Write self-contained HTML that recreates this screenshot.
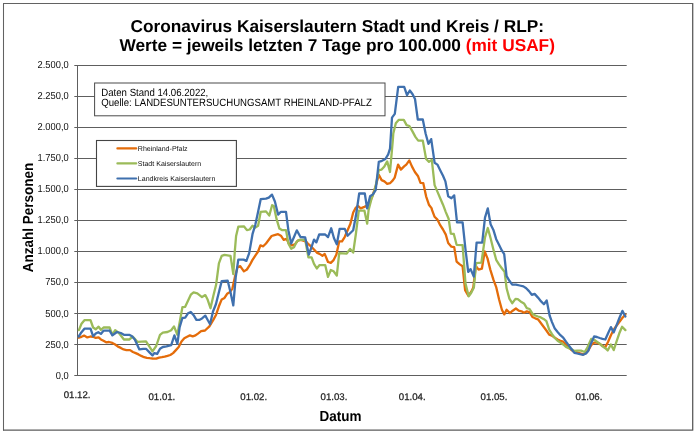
<!DOCTYPE html>
<html><head><meta charset="utf-8"><title>Coronavirus Kaiserslautern</title>
<style>
html,body{margin:0;padding:0;background:#fff;}
svg{display:block;will-change:transform;}
text{font-family:"Liberation Sans",sans-serif;text-rendering:geometricPrecision;}
</style></head><body>
<svg width="696" height="432" viewBox="0 0 696 432">
<rect x="0" y="0" width="696" height="432" fill="#fff"/>
<path d="M3.5 430.6 V3.5 H693.2" fill="none" stroke="#626262" stroke-width="1.05"/>
<path d="M692.7 3.5 V430.15 H3.0" fill="none" stroke="#5c5c5c" stroke-width="1.3" stroke-linejoin="round"/>
<!-- title -->
<text x="337.2" y="31.5" text-anchor="middle" font-size="17.27" font-weight="bold" fill="#000">Coronavirus Kaiserslautern Stadt und Kreis / RLP:</text>
<text x="337.2" y="50.8" text-anchor="middle" font-size="17.27" font-weight="bold" fill="#000">Werte = jeweils letzten 7 Tage pro 100.000 <tspan fill="#ff0000">(mit USAF)</tspan></text>
<!-- grid -->
<line x1="74.3" y1="375.50" x2="626.7" y2="375.50" stroke="#5e5e5e" stroke-width="1"/>
<line x1="74.3" y1="344.50" x2="626.7" y2="344.50" stroke="#5e5e5e" stroke-width="1"/>
<line x1="74.3" y1="313.50" x2="626.7" y2="313.50" stroke="#5e5e5e" stroke-width="1"/>
<line x1="74.3" y1="282.50" x2="626.7" y2="282.50" stroke="#5e5e5e" stroke-width="1"/>
<line x1="74.3" y1="251.50" x2="626.7" y2="251.50" stroke="#5e5e5e" stroke-width="1"/>
<line x1="74.3" y1="220.50" x2="626.7" y2="220.50" stroke="#5e5e5e" stroke-width="1"/>
<line x1="74.3" y1="189.50" x2="626.7" y2="189.50" stroke="#5e5e5e" stroke-width="1"/>
<line x1="74.3" y1="158.50" x2="626.7" y2="158.50" stroke="#5e5e5e" stroke-width="1"/>
<line x1="74.3" y1="127.50" x2="626.7" y2="127.50" stroke="#5e5e5e" stroke-width="1"/>
<line x1="74.3" y1="96.50" x2="626.7" y2="96.50" stroke="#5e5e5e" stroke-width="1"/>
<line x1="74.3" y1="65.50" x2="626.7" y2="65.50" stroke="#5e5e5e" stroke-width="1"/>

<line x1="77.5" y1="65.0" x2="77.5" y2="376.0" stroke="#5e5e5e" stroke-width="1"/>
<text transform="translate(68.7,378.70) scale(0.915,1)" text-anchor="end" font-size="10.2" fill="#111">0,0</text>
<text transform="translate(68.7,347.60) scale(0.915,1)" text-anchor="end" font-size="10.2" fill="#111">250,0</text>
<text transform="translate(68.7,316.50) scale(0.915,1)" text-anchor="end" font-size="10.2" fill="#111">500,0</text>
<text transform="translate(68.7,285.40) scale(0.915,1)" text-anchor="end" font-size="10.2" fill="#111">750,0</text>
<text transform="translate(68.7,254.30) scale(0.915,1)" text-anchor="end" font-size="10.2" fill="#111">1.000,0</text>
<text transform="translate(68.7,223.20) scale(0.915,1)" text-anchor="end" font-size="10.2" fill="#111">1.250,0</text>
<text transform="translate(68.7,192.10) scale(0.915,1)" text-anchor="end" font-size="10.2" fill="#111">1.500,0</text>
<text transform="translate(68.7,161.00) scale(0.915,1)" text-anchor="end" font-size="10.2" fill="#111">1.750,0</text>
<text transform="translate(68.7,129.90) scale(0.915,1)" text-anchor="end" font-size="10.2" fill="#111">2.000,0</text>
<text transform="translate(68.7,98.80) scale(0.915,1)" text-anchor="end" font-size="10.2" fill="#111">2.250,0</text>
<text transform="translate(68.7,67.70) scale(0.915,1)" text-anchor="end" font-size="10.2" fill="#111">2.500,0</text>

<text x="77.1" y="398.2" text-anchor="middle" font-size="9.65" fill="#222" stroke="#222" stroke-width="0.25">01.12.</text>
<text x="161.9" y="400.4" text-anchor="middle" font-size="9.65" fill="#222" stroke="#222" stroke-width="0.25">01.01.</text>
<text x="253.75" y="399.7" text-anchor="middle" font-size="9.65" fill="#222" stroke="#222" stroke-width="0.25">01.02.</text>
<text x="334.0" y="399.7" text-anchor="middle" font-size="9.65" fill="#222" stroke="#222" stroke-width="0.25">01.03.</text>
<text x="412.2" y="400.4" text-anchor="middle" font-size="9.65" fill="#222" stroke="#222" stroke-width="0.25">01.04.</text>
<text x="494.0" y="400.4" text-anchor="middle" font-size="9.65" fill="#222" stroke="#222" stroke-width="0.25">01.05.</text>
<text x="589.0" y="399.7" text-anchor="middle" font-size="9.65" fill="#222" stroke="#222" stroke-width="0.25">01.06.</text>

<!-- axis titles -->
<text transform="translate(340.6,420.6) scale(0.924,1)" text-anchor="middle" font-size="14.6" font-weight="bold" fill="#000">Datum</text>
<text transform="translate(32.8,217.5) rotate(-90) scale(0.924,1)" text-anchor="middle" font-size="14.6" font-weight="bold" fill="#000">Anzahl Personen</text>
<!-- info box -->
<rect x="94.6" y="83.0" width="290.4" height="32.8" fill="#fff" stroke="#4a4a4a" stroke-width="1"/>
<text transform="translate(101.3,95.6) scale(0.912,1)" font-size="10.55" fill="#000">Daten Stand 14.06.2022,</text>
<text transform="translate(101.3,106.4) scale(0.911,1)" font-size="10.55" fill="#000">Quelle: LANDESUNTERSUCHUNGSAMT RHEINLAND-PFALZ</text>
<!-- legend -->
<rect x="96.5" y="140.5" width="139.9" height="45.9" fill="#fff" stroke="#444" stroke-width="1.1"/>
<line x1="117.4" y1="148.4" x2="136.2" y2="148.4" stroke="#e46c0a" stroke-width="2.2" stroke-linecap="round"/>
<line x1="117.4" y1="163.4" x2="136.2" y2="163.4" stroke="#9bbb59" stroke-width="2.2" stroke-linecap="round"/>
<line x1="117.4" y1="178.5" x2="136.2" y2="178.5" stroke="#3f70ae" stroke-width="2.2" stroke-linecap="round"/>
<text x="137.8" y="150.8" font-size="7.05" fill="#111">Rheinland-Pfalz</text>
<text x="137.8" y="166.0" font-size="7.05" fill="#111">Stadt Kaiserslautern</text>
<text x="137.8" y="180.8" font-size="7.05" fill="#111">Landkreis Kaiserslautern</text>
<!-- series -->
<g fill="none" stroke-width="2.3" stroke-linejoin="round" stroke-linecap="round">
<polyline stroke="#e46c0a" points="78.8,337.7 81.5,336.8 84.1,335.6 87.3,337.4 90.5,336.5 93.1,336.8 95.7,337.9 98.6,337.4 100.9,339.4 103.5,340.8 106.1,342.3 109.0,342.0 112.4,342.9 115.2,344.5 118.0,346.6 120.8,347.9 123.6,349.4 126.4,350.1 130.1,350.1 132.9,352.0 135.7,353.1 138.5,354.4 141.3,355.9 144.1,357.2 146.9,357.8 149.7,358.2 152.5,358.5 156.2,358.7 159.1,357.6 161.9,357.2 164.7,356.7 167.5,355.9 170.3,355.0 173.1,353.1 175.9,350.1 178.7,347.0 181.5,341.4 184.3,338.2 187.1,336.7 189.9,335.4 192.7,336.3 195.5,335.4 198.3,333.3 201.1,331.1 205.0,330.5 209.4,326.3 213.3,319.9 216.1,314.7 218.9,306.3 221.7,299.4 224.5,297.9 227.1,293.8 229.7,292.3 232.4,288.6 234.8,277.4 237.6,267.1 240.2,266.1 243.9,271.4 246.9,269.5 249.7,265.2 252.5,259.9 255.3,255.6 258.1,251.5 260.4,245.4 263.2,246.3 266.0,243.5 268.8,239.8 271.6,236.0 274.4,235.1 278.1,234.2 280.9,235.7 283.7,239.8 286.5,238.8 289.3,244.4 292.1,245.4 294.9,244.4 297.7,240.7 300.5,239.8 303.3,240.7 306.1,241.6 308.4,244.2 311.2,246.5 314.0,249.5 316.8,252.6 319.6,253.9 322.4,255.8 324.7,253.9 328.0,262.0 330.8,262.9 333.6,260.1 336.4,254.5 339.2,241.4 342.0,241.4 344.8,236.8 347.6,230.2 350.4,223.7 353.2,212.5 355.7,207.8 357.9,205.9 360.7,208.4 364.4,206.9 368.9,204.7 372.3,196.3 375.7,186.0 378.8,174.8 381.6,180.1 384.4,181.4 387.2,183.8 390.0,183.2 392.8,180.4 394.7,177.6 398.1,164.6 400.9,169.6 404.1,166.4 406.3,164.6 409.3,160.4 411.9,166.4 414.9,172.0 418.1,176.3 420.5,182.9 423.3,183.2 426.1,196.3 428.9,204.7 431.7,208.4 431.8,209.3 434.6,216.8 437.4,219.6 440.2,225.2 443.0,229.5 445.8,234.6 448.2,243.0 451.4,246.7 454.2,247.1 456.6,261.6 459.8,264.4 462.6,266.3 465.1,290.2 468.3,295.8 471.1,292.0 473.3,287.4 475.8,265.9 478.6,269.6 481.9,268.7 484.7,251.5 487.5,258.4 490.3,269.6 493.5,279.9 496.3,287.4 499.1,299.5 501.9,309.8 504.3,314.4 506.6,309.8 509.9,313.1 512.7,310.7 515.9,308.5 518.7,310.7 521.5,311.3 524.0,312.7 526.8,311.4 529.6,312.2 532.4,317.0 535.2,318.3 538.0,319.3 540.8,323.0 543.6,326.8 546.4,330.5 549.2,334.6 552.0,335.7 554.8,337.6 557.6,339.5 560.4,340.8 563.2,341.7 566.0,344.5 568.8,347.7 571.6,350.1 574.4,352.0 577.2,352.5 580.0,353.3 583.2,354.4 586.0,352.9 588.4,350.1 591.2,345.1 594.1,342.6 596.9,342.6 599.7,343.9 602.5,345.8 605.3,347.3 608.1,341.7 610.9,335.2 613.7,329.6 616.5,325.8 619.3,322.1 622.1,318.3 625.4,314.6"/>
<polyline stroke="#9bbb59" points="78.9,330.1 81.5,323.8 84.4,320.2 90.5,320.2 93.1,327.5 95.7,329.3 98.6,326.7 100.9,329.8 103.5,327.5 109.6,327.5 112.4,334.8 115.2,330.2 118.9,333.0 123.9,339.5 129.2,339.5 132.9,336.7 137.6,341.9 146.0,341.4 152.5,351.3 156.2,346.0 160.0,334.8 162.8,332.6 167.5,332.0 171.2,330.2 174.0,326.4 177.4,334.8 182.4,307.2 185.2,306.8 190.8,294.7 193.6,292.4 197.3,293.4 202.0,297.1 205.3,295.1 207.7,299.8 210.5,308.2 213.3,296.0 216.1,284.8 218.9,263.3 221.7,255.9 224.5,254.9 230.5,255.9 233.3,274.2 234.8,251.2 236.1,236.0 238.3,226.7 243.9,226.3 246.9,230.1 249.7,229.5 252.5,225.8 255.3,227.6 258.1,225.8 260.7,211.8 266.0,211.4 269.3,215.5 272.1,205.2 273.8,206.1 276.6,219.2 279.4,228.6 281.9,230.1 286.0,230.1 288.4,243.5 291.2,248.7 294.0,247.2 296.8,241.6 299.6,239.8 305.2,239.8 308.4,257.3 311.6,257.3 314.0,263.8 316.8,268.5 319.6,265.1 325.2,265.1 328.0,276.9 330.8,270.0 333.6,271.3 336.8,275.6 339.2,253.2 346.7,253.6 350.1,248.9 353.2,252.6 356.0,233.0 358.8,210.6 364.4,210.6 367.2,223.7 368.6,209.9 371.4,199.1 374.2,191.6 376.0,184.2 378.8,170.2 381.6,169.6 384.4,166.4 387.2,161.4 390.0,172.0 392.8,140.3 393.3,133.5 395.8,123.2 398.6,119.9 403.8,119.9 406.6,125.1 409.4,126.0 412.6,131.6 415.4,136.9 418.2,140.6 422.8,140.6 426.1,159.0 429.0,161.8 431.8,159.9 434.6,185.1 437.4,191.6 440.2,198.2 443.0,204.7 445.8,212.1 448.6,218.7 450.8,233.6 453.8,234.0 456.6,244.8 462.6,245.2 465.5,283.6 468.7,296.3 471.1,293.0 473.9,287.4 476.1,263.1 481.4,262.7 485.0,237.4 487.8,228.0 490.6,238.3 493.4,249.5 496.2,259.8 499.0,264.4 501.8,268.2 504.6,271.9 506.6,288.3 509.4,298.6 512.2,303.2 515.5,298.9 517.8,299.1 520.6,301.4 524.0,303.4 526.8,308.1 529.6,309.0 532.4,313.7 535.2,315.5 538.0,316.5 540.8,317.4 543.6,318.9 546.4,321.1 549.2,329.6 552.0,334.2 554.8,338.0 557.6,340.8 560.4,342.6 563.2,344.5 566.0,346.9 568.8,348.2 571.6,349.2 574.4,351.0 577.2,350.7 581.0,350.7 584.7,352.0 587.5,347.3 591.2,338.9 594.1,339.8 596.9,341.7 599.7,343.6 602.5,346.4 605.3,348.2 607.7,350.5 610.9,344.5 613.7,350.1 616.5,341.7 619.3,333.3 622.1,326.8 625.4,330.1"/>
<polyline stroke="#3f70ae" points="78.7,336.5 81.5,332.2 84.4,328.7 90.5,328.7 93.1,336.2 95.7,333.6 98.3,332.2 100.9,333.9 103.5,330.7 109.6,330.7 112.4,335.4 117.0,332.0 120.8,333.0 123.9,334.8 129.2,334.8 132.0,336.3 134.8,339.5 139.4,349.4 143.2,348.8 146.0,348.8 149.7,352.6 152.5,355.4 154.4,353.1 157.2,353.9 160.0,348.8 162.8,347.0 166.5,346.4 171.2,345.1 174.4,335.4 177.4,343.8 179.6,327.4 182.4,318.0 185.2,317.6 188.0,313.3 190.8,312.0 193.6,315.2 196.4,319.9 199.2,319.9 202.0,318.4 205.3,315.6 208.0,320.5 210.1,324.1 213.0,311.5 215.9,304.3 218.9,292.3 221.7,281.1 227.7,280.7 230.5,292.3 233.3,305.4 235.7,277.4 238.3,259.6 243.6,259.6 246.4,260.9 249.2,253.1 252.5,234.2 255.3,224.8 258.1,211.8 260.7,199.2 266.0,198.7 268.8,197.7 272.0,194.6 274.9,201.5 278.1,214.6 280.9,211.8 286.0,211.8 288.4,230.4 291.2,243.5 294.0,237.0 296.8,230.4 300.5,237.0 305.2,237.5 308.8,254.5 311.2,248.0 314.0,239.6 316.4,242.4 319.2,234.5 325.2,234.5 328.0,237.1 331.2,228.3 334.0,238.2 336.8,244.2 339.6,228.9 344.8,228.9 347.6,235.8 353.2,230.2 356.0,215.3 359.2,193.5 364.8,193.5 367.1,208.4 370.1,196.3 372.9,194.4 375.7,190.1 378.8,161.8 382.0,160.8 385.4,159.0 388.2,154.3 390.0,148.7 392.0,117.6 394.8,113.9 398.2,86.8 404.2,86.8 407.0,95.2 409.8,90.5 412.6,94.3 415.0,99.0 417.8,119.5 422.8,119.5 425.6,133.5 428.4,143.8 431.2,139.1 434.6,162.7 437.4,164.6 440.2,170.2 443.0,175.8 445.4,181.4 448.2,196.3 451.4,198.2 454.2,195.4 457.0,222.4 462.6,222.4 465.4,248.6 468.2,271.9 470.6,269.1 473.8,276.6 476.6,242.6 482.2,242.6 485.0,217.7 487.8,208.4 490.6,224.3 493.4,229.9 496.2,239.2 499.0,244.8 501.8,250.4 504.2,254.2 506.6,276.1 509.4,280.8 512.2,284.6 515.9,284.6 519.7,285.5 523.4,286.4 526.2,288.3 529.0,291.1 531.8,294.8 534.6,293.9 538.0,297.6 541.1,301.4 543.9,304.2 546.7,300.4 549.6,315.5 552.0,322.1 554.8,328.6 557.6,332.0 560.4,335.2 563.2,337.6 566.0,341.7 568.8,345.4 571.6,349.2 574.4,352.9 577.2,353.5 580.0,354.2 583.2,354.8 586.0,353.5 588.4,350.7 591.2,343.2 594.1,336.5 596.9,337.0 599.7,338.0 602.5,338.9 605.3,339.5 608.1,333.3 610.9,327.1 613.7,332.4 616.5,325.3 619.3,318.3 622.4,310.9 625.4,316.5"/>
</g>
</svg>
</body></html>
